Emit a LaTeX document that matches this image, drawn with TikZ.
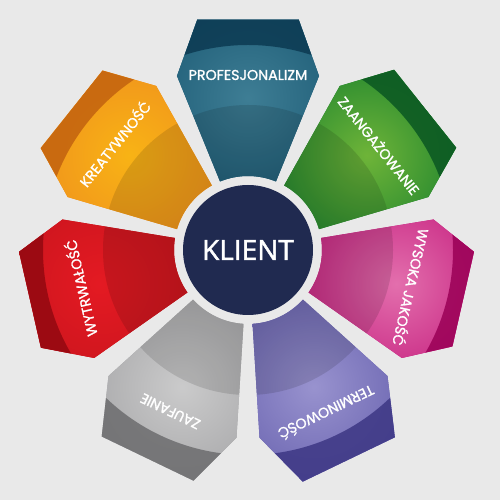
\documentclass[tikz,border=0pt]{standalone}
\usepackage{fontspec}
\setmainfont{Poppins}[FakeBold=1.3]
\newfontfamily\klientfont{Open Sans}[FakeBold=1.6]
\definecolor{bg}{HTML}{E9E9E9}
\definecolor{navy}{HTML}{202A50}
\definecolor{tealM}{HTML}{1A5872}\definecolor{tealH}{HTML}{4A8AA0}\definecolor{tealD}{HTML}{0C3A52}
\definecolor{greenM}{HTML}{157E2D}\definecolor{greenH}{HTML}{8CC63C}\definecolor{greenD}{HTML}{0A5722}
\definecolor{magM}{HTML}{C2187A}\definecolor{magH}{HTML}{EE8CBE}\definecolor{magD}{HTML}{9A0056}
\definecolor{purM}{HTML}{645EAC}\definecolor{purH}{HTML}{AAA4DA}\definecolor{purD}{HTML}{3D3784}
\definecolor{grayM}{HTML}{A2A2A4}\definecolor{grayH}{HTML}{D8D8D8}\definecolor{grayD}{HTML}{6C6C6E}
\definecolor{redM}{HTML}{C6141C}\definecolor{redH}{HTML}{EE1C25}\definecolor{redD}{HTML}{930810}
\definecolor{orM}{HTML}{EE8C1E}\definecolor{orH}{HTML}{FCC012}\definecolor{orD}{HTML}{C2620F}
\tikzset{
  petaltext/.style={text=white, inner sep=0pt, font=\fontsize{14.2}{14.2}\selectfont},
  hub/.style={circle, fill=navy, minimum size=130pt, inner sep=0pt, text=white,
    font=\klientfont\fontsize{28}{28}\selectfont}
}
\begin{document}
\begin{tikzpicture}[x=1pt,y=1pt]
\useasboundingbox (0,0) rectangle (500,500);
\fill[bg] (0,0) rectangle (500,500);
\begin{scope}[shift={(248,250)}]
\foreach \a/\c/\txt/\d/\r/\n in {
  90/teal/PROFESJONALIZM/175/236/p1,
  38.57/green/ZAANGAŻOWANIE/168/232/p2,
  -12.86/mag/WYSOKA JAKOŚĆ/168/226/p3,
  -64.29/pur/TERMINOWOŚĆ/181/238/p4,
  -115.71/gray/ZAUFANIE/179/237/p5,
  -167.14/red/WYTRWAŁOŚĆ/172/229/p6,
  141.43/or/KREATYWNOŚĆ/171/231/p7}{
  \begin{scope}
    \clip (\a+22.2:74) -- (\a+22.2:188) -- (\a+12.4:\r) -- (\a-12.4:\r)
      -- (\a-22.2:188) -- (\a-22.2:74) arc[start angle=\a-22.2, end angle=\a+22.2, radius=74] -- cycle;
    \fill[\c M] (0,0) circle (250);
    \shade[inner color=\c H!75!\c M, outer color=\c M] (\a:152) circle (120);
    \fill[black, opacity=0.12] (0,0) circle (145);
    \fill[\c D, opacity=0.85, even odd rule] (0,0) circle (205) circle (260);
  \end{scope}
  \node[petaltext, rotate=\a-90] (\n) at (\a:\d) {\txt};
}
\node[hub] (klient) at (0,0) {KLIENT};
\end{scope}
\end{tikzpicture}
\end{document}
